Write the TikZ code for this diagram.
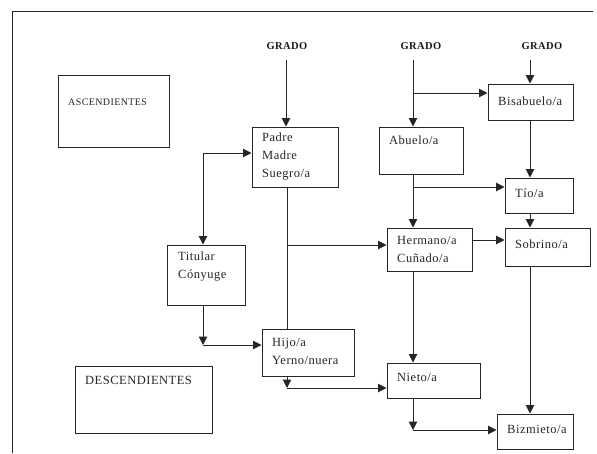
\documentclass[tikz,border=0pt]{standalone}
\usepackage{fontspec}
\setmainfont[LetterSpace=4]{Liberation Serif}
\usetikzlibrary{arrows.meta}
\begin{document}
\begin{tikzpicture}[x=1pt,y=-1pt,
  box/.style={draw=black!85, line width=1pt, inner sep=0pt, fill=white},
  lbl/.style={anchor=west, align=left, inner sep=0pt, text=black!85, font=\fontsize{12.5}{18}\selectfont},
  grado/.style={inner sep=0pt, text=black!90, font=\fontsize{10.5}{12}\selectfont\bfseries},
  ln/.style={draw=black!85, line width=1pt},
  arr/.style={ln, -{Triangle[length=8.5pt,width=8.5pt]}}]
\useasboundingbox (0,0) rectangle (597,453);
\draw[ln] (593,11) -- (12,11) -- (12,453);

% boxes
\node[box, minimum width=86pt, minimum height=60pt] (padre) at (295,157) {};
\node[box, minimum width=84pt, minimum height=47pt] (abuelo) at (421,150.5) {};
\node[box, minimum width=85pt, minimum height=36pt] (bisabuelo) at (530.5,102) {};
\node[box, minimum width=68pt, minimum height=35pt] (tio) at (539,195.5) {};
\node[box, minimum width=78pt, minimum height=60pt] (titular) at (206,275) {};
\node[box, minimum width=85pt, minimum height=43pt] (hermano) at (429.5,249.5) {};
\node[box, minimum width=85pt, minimum height=38pt] (sobrino) at (547.5,247) {};
\node[box, minimum width=92pt, minimum height=47pt] (hijo) at (308,352.5) {};
\node[box, minimum width=93pt, minimum height=35pt] (nieto) at (433.5,380.5) {};
\node[box, minimum width=76pt, minimum height=35pt] (bizmieto) at (535,431.5) {};
\node[box, minimum width=111pt, minimum height=72pt] (asc) at (113.5,111) {};
\node[box, minimum width=137pt, minimum height=67pt] (desc) at (143.5,399.5) {};

% texts
\node[lbl] (padret) at (262,157) {Padre\\Madre\\Suegro/a};
\node[lbl] (abuelot) at (389,140) {Abuelo/a};
\node[lbl] (bisabuelot) at (498,101) {Bisabuelo/a};
\node[lbl] (tiot) at (515,193) {Tío/a};
\node[lbl] (titulart) at (178,267) {Titular\\Cónyuge};
\node[lbl] (hermanot) at (397,249.5) {Hermano/a\\Cuñado/a};
\node[lbl] (sobrinot) at (515,244) {Sobrino/a};
\node[lbl] (hijot) at (272,351.5) {Hijo/a\\Yerno/nuera};
\node[lbl] (nietot) at (397,377) {Nieto/a};
\node[lbl] (bizmietot) at (507,429) {Bizmieto/a};
\node[lbl, font=\fontsize{10}{12}\selectfont] (asct) at (68,102) {ASCENDIENTES};
\node[lbl, font=\fontsize{12.5}{14}\selectfont] (desct) at (85,380) {DESCENDIENTES};

\node[grado] (g1) at (287,46) {GRADO};
\node[grado] (g2) at (421,46) {GRADO};
\node[grado] (g3) at (542,46) {GRADO};

% connector points
\coordinate (c1) at (286,60);
\coordinate (c2) at (413,60);
\coordinate (c3) at (530,60);
\coordinate (b2) at (413,93);
\coordinate (b4) at (413,187);
\coordinate (h1) at (472,240);
\coordinate (p1) at (287,245);
\coordinate (k1) at (203,153);
\coordinate (k2) at (203,345);
\coordinate (k3) at (287,388);
\coordinate (k4) at (413,430);

% connectors
\draw[arr] (c1) -- (c1 |- padre.north);
\draw[arr] (c2) -- (c2 |- abuelo.north);
\draw[arr] (b2) -- (b2 -| bisabuelo.west);
\draw[arr] (c3) -- (c3 |- bisabuelo.north);
\draw[arr] (c3 |- bisabuelo.south) -- (c3 |- tio.north);
\draw[arr] (c2 |- abuelo.south) -- (c2 |- hermano.north);
\draw[arr] (b4) -- (b4 -| tio.west);
\draw[arr] (c3 |- tio.south) -- (c3 |- sobrino.north);
\draw[arr] (h1) -- (h1 -| sobrino.west);
\draw[ln] (p1 |- padre.south) -- (p1 |- hijo.north);
\draw[arr] (p1) -- (p1 -| hermano.west);
\draw[arr] (k1) -- (k1 -| padre.west);
\draw[arr] (k1) -- (k1 |- titular.north);
\draw[arr] (k2 |- titular.south) -- (k2);
\draw[arr] (k2) -- (k2 -| hijo.west);
\draw[arr] (k3 |- hijo.south) -- (k3);
\draw[arr] (k3) -- (k3 -| nieto.west);
\draw[arr] (c2 |- hermano.south) -- (c2 |- nieto.north);
\draw[arr] (k4 |- nieto.south) -- (k4);
\draw[arr] (k4) -- (k4 -| bizmieto.west);
\draw[arr] (c3 |- sobrino.south) -- (c3 |- bizmieto.north);
\end{tikzpicture}
\end{document}
